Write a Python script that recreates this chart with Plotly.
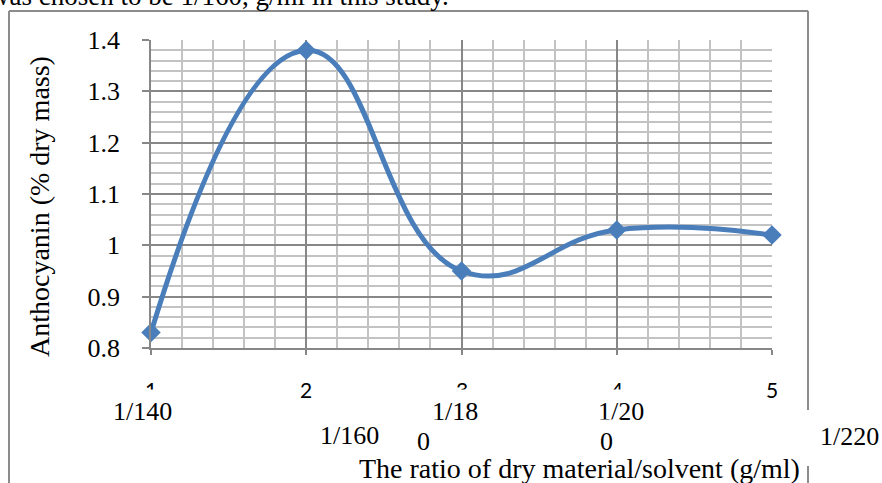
import plotly.graph_objects as go

# ---- data ----
categories = [1, 2, 3, 4, 5]
anthocyanin = [0.83, 1.38, 0.95, 1.03, 1.02]
ratio_labels = ["1/140", "1/160", "1/18", "0", "1/20", "0", "1/220"]
y_ticks = [0.8, 0.9, 1.0, 1.1, 1.2, 1.3, 1.4]
y_tick_text = ["0.8", "0.9", "1", "1.1", "1.2", "1.3", "1.4"]
x_title = "The ratio of dry material/solvent (g/ml)"
y_title = "Anthocyanin (% dry mass)"
top_text = "was chosen to be 1/160, g/ml in this study."

W, H = 882, 483
X0, X1, Y0, Y1 = 151, 772, 40, 348  # plot area pixels


def px(xp):
    return (xp - X0) / (X1 - X0)


def py(yp):
    return (Y1 - yp) / (Y1 - Y0)


BLUE = "#4A7EBB"
SERIF = "Liberation Serif"
PAD = 7

fig = go.Figure()
fig.add_trace(go.Scatter(
    x=categories, y=anthocyanin, mode="lines+markers",
    line=dict(color=BLUE, width=5, shape="spline", smoothing=1.3),
    marker=dict(symbol="diamond", size=15, color=BLUE),
    cliponaxis=False, showlegend=False,
))

ann = []
# x tick numbers (category index)
for c in categories:
    ann.append(dict(x=c, xref="x", y=py(389), yref="paper", text=str(c),
                    showarrow=False, xanchor="center", yanchor="middle",
                    font=dict(family="Lato", size=21, color="black")))

# ratio labels with white background (covering parts of tick numbers)
label_pos = [(142, 411, "center"), (349, 436, "center"), (431 - PAD, 411, "left"),
             (416 - PAD, 441, "left"), (597 - PAD, 411, "left"), (599 - PAD, 441, "left"),
             (849, 437, "center")]
for t, (xp, yp, anc) in zip(ratio_labels, label_pos):
    ann.append(dict(x=px(xp), xref="paper", y=py(yp), yref="paper", text=t,
                    showarrow=False, xanchor=anc, yanchor="middle",
                    bgcolor="white", borderpad=PAD,
                    font=dict(family=SERIF, size=26, color="black")))

ann.append(dict(x=px(579), xref="paper", y=py(468), yref="paper", text=x_title,
                showarrow=False, xanchor="center", yanchor="middle",
                font=dict(family=SERIF, size=28, color="black")))
ann.append(dict(x=px(40), xref="paper", y=py(207), yref="paper", text=y_title,
                showarrow=False, xanchor="center", yanchor="middle", textangle=-90,
                font=dict(family=SERIF, size=28, color="black")))
ann.append(dict(x=px(-12), xref="paper", y=py(-4), yref="paper", text=top_text,
                showarrow=False, xanchor="left", yanchor="middle",
                font=dict(family=SERIF, size=27, color="black")))

FRAME = "#8C8C8C"
shapes = [
    dict(type="line", xref="paper", yref="paper", x0=px(9), x1=px(9), y0=py(11), y1=py(490),
         line=dict(color=FRAME, width=2)),
    dict(type="line", xref="paper", yref="paper", x0=px(9), x1=px(808), y0=py(11), y1=py(11),
         line=dict(color=FRAME, width=2)),
    dict(type="line", xref="paper", yref="paper", x0=px(808), x1=px(808), y0=py(11), y1=py(410),
         line=dict(color=FRAME, width=2)),
    dict(type="line", xref="paper", yref="paper", x0=px(808), x1=px(808), y0=py(466), y1=py(490),
         line=dict(color=FRAME, width=2)),
]

MAJ = "#878787"
MIN = "#C3C3C3"
fig.update_layout(
    width=W, height=H,
    margin=dict(l=X0, r=W - X1, t=Y0, b=H - Y1),
    paper_bgcolor="white", plot_bgcolor="white",
    annotations=ann, shapes=shapes,
    xaxis=dict(range=[1, 5], tickvals=categories, showticklabels=False,
               showgrid=True, gridcolor=MAJ, gridwidth=1.5,
               minor=dict(dtick=0.2, tick0=1, showgrid=True, gridcolor=MIN, gridwidth=1.5),
               showline=True, linecolor=MAJ, linewidth=1.5,
               ticks="outside", ticklen=5, tickcolor=MAJ, tickwidth=1.5, zeroline=False),
    yaxis=dict(range=[0.8, 1.4], tickvals=y_ticks, ticktext=y_tick_text,
               showgrid=True, gridcolor=MAJ, gridwidth=1.5,
               minor=dict(dtick=0.02, tick0=0.8, showgrid=True, gridcolor=MIN, gridwidth=1.5),
               showline=True, linecolor=MAJ, linewidth=1.5,
               ticks="outside", ticklen=7, tickcolor=MAJ, tickwidth=1.5,
               ticklabelstandoff=17, zeroline=False,
               tickfont=dict(family=SERIF, size=26, color="black")),
)

fig.write_html("out.html")
